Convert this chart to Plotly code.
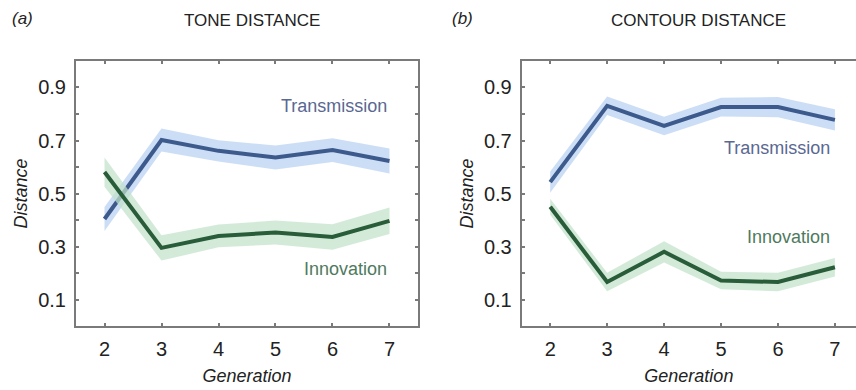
import plotly.graph_objects as go

generations = [2, 3, 4, 5, 6, 7]

# Panel (a): tone distance
tone_transmission = [0.404, 0.702, 0.661, 0.636, 0.664, 0.623]
tone_transmission_err = [0.045, 0.043, 0.040, 0.045, 0.045, 0.047]
tone_innovation = [0.581, 0.295, 0.340, 0.353, 0.336, 0.397]
tone_innovation_err = [0.055, 0.048, 0.043, 0.045, 0.048, 0.050]

# Panel (b): contour distance
contour_transmission = [0.543, 0.831, 0.755, 0.826, 0.826, 0.778]
contour_transmission_err = [0.040, 0.035, 0.035, 0.035, 0.038, 0.040]
contour_innovation = [0.450, 0.166, 0.280, 0.172, 0.166, 0.222]
contour_innovation_err = [0.030, 0.035, 0.040, 0.033, 0.035, 0.035]

y_ticks = [0.1, 0.2, 0.3, 0.4, 0.5, 0.6, 0.7, 0.8, 0.9]
y_ticklabels = ["0.1", "", "0.3", "", "0.5", "", "0.7", "", "0.9"]

TRANS_LINE = "#3d5a8c"
TRANS_BAND = "rgba(180,205,242,0.68)"
INNOV_LINE = "#295c39"
INNOV_BAND = "rgba(194,226,202,0.72)"
TRANS_TEXT = "#5a6892"
INNOV_TEXT = "#4e7a5d"
AXIS = "#7a7a7a"
FONT = "Liberation Sans, Arial, sans-serif"

fig = go.Figure()


def add_series(mean, err, line_color, band_color, xa, ya):
    lower = [m - e for m, e in zip(mean, err)]
    upper = [m + e for m, e in zip(mean, err)]
    fig.add_trace(go.Scatter(
        x=generations + generations[::-1], y=upper + lower[::-1],
        fill="toself", fillcolor=band_color, line=dict(width=0),
        mode="lines", hoverinfo="skip", showlegend=False, xaxis=xa, yaxis=ya))
    fig.add_trace(go.Scatter(
        x=generations, y=mean, mode="lines",
        line=dict(color=line_color, width=4),
        showlegend=False, xaxis=xa, yaxis=ya))


add_series(tone_transmission, tone_transmission_err, TRANS_LINE, TRANS_BAND, "x", "y")
add_series(tone_innovation, tone_innovation_err, INNOV_LINE, INNOV_BAND, "x", "y")
add_series(contour_transmission, contour_transmission_err, TRANS_LINE, TRANS_BAND, "x2", "y2")
add_series(contour_innovation, contour_innovation_err, INNOV_LINE, INNOV_BAND, "x2", "y2")

common_x = dict(
    tickvals=generations, ticks="inside", ticklen=3, tickwidth=2, tickcolor=AXIS,
    showline=True, linecolor=AXIS, linewidth=2, mirror="allticks",
    showgrid=False, zeroline=False, tickfont=dict(size=20, color="#222"),
    ticklabelstandoff=4,
    title=dict(text="<i>Generation</i>", font=dict(size=18, color="#222"), standoff=10),
)
common_y = dict(
    range=[0, 1], tickvals=y_ticks, ticktext=y_ticklabels,
    ticks="inside", ticklen=3, tickwidth=2, tickcolor=AXIS,
    showline=True, linecolor=AXIS, linewidth=2,
    showgrid=False, zeroline=False, tickfont=dict(size=20, color="#222"),
    ticklabelstandoff=4,
    title=dict(text="<i>Distance</i>", font=dict(size=18, color="#222"), standoff=6),
)

fig.update_layout(
    width=856, height=390,
    margin=dict(l=0, r=0, t=0, b=0),
    paper_bgcolor="white", plot_bgcolor="white",
    font=dict(family=FONT),
    xaxis=dict(domain=[0.0888, 0.4883], range=[1.5, 7.5], anchor="y", **common_x),
    yaxis=dict(domain=[0.164, 0.8436], anchor="x", mirror="allticks", **common_y),
    xaxis2=dict(domain=[0.6095, 1.0], range=[1.5, 7.37], anchor="y2", **common_x),
    # right frame edge of panel (b) runs off the page
    yaxis2=dict(domain=[0.164, 0.8436], anchor="x2", mirror=False, **common_y),
)

annotations = [
    dict(text="<i>(a)</i>", x=10, y=18, xanchor="left", size=17, color="#222"),
    dict(text="TONE DISTANCE", x=252, y=20, xanchor="center", size=17, color="#222"),
    dict(text="<i>(b)</i>", x=450, y=18, xanchor="left", size=17, color="#222"),
    dict(text="CONTOUR DISTANCE", x=698, y=20, xanchor="center", size=17, color="#222"),
]
for a in annotations:
    fig.add_annotation(
        text=a["text"], x=a["x"] / 856, y=1 - a["y"] / 390,
        xref="paper", yref="paper", xanchor=a["xanchor"], yanchor="middle",
        showarrow=False, font=dict(size=a["size"], color=a["color"], family=FONT))

# Series labels placed in data coordinates
series_labels = [
    ("Transmission", 7.0, 0.83, "x", "y", TRANS_TEXT),
    ("Innovation", 7.0, 0.216, "x", "y", INNOV_TEXT),
    ("Transmission", 6.95, 0.671, "x2", "y2", TRANS_TEXT),
    ("Innovation", 6.95, 0.335, "x2", "y2", INNOV_TEXT),
]
for text, x, y, xr, yr, col in series_labels:
    fig.add_annotation(
        text=text, x=x, y=y, xref=xr, yref=yr, xanchor="right", yanchor="middle",
        showarrow=False, font=dict(size=18, color=col, family=FONT))

fig.write_html("out.html")
